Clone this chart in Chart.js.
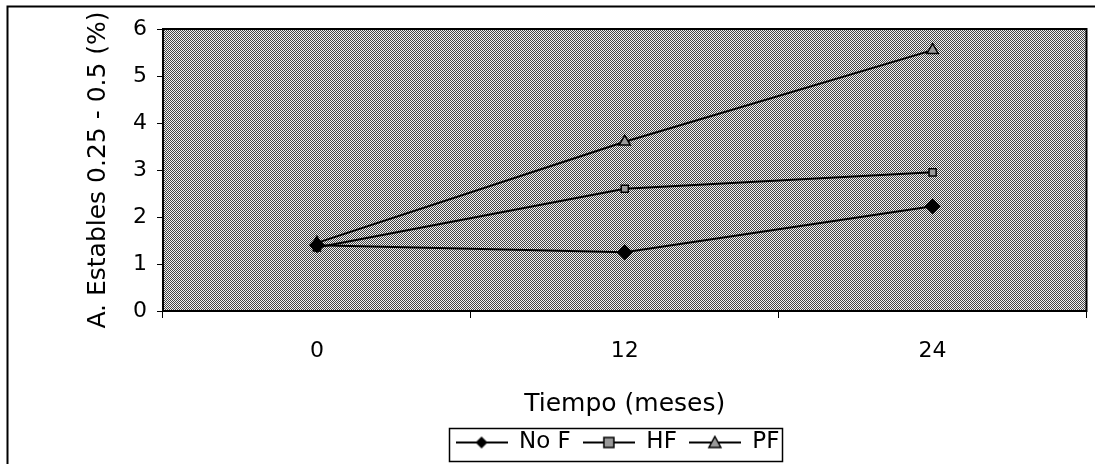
<!DOCTYPE html>
<html><head><meta charset="utf-8">
<script src="https://cdn.jsdelivr.net/npm/chart.js@4"></script>
<style>html,body{margin:0;padding:0;background:#fff;}#wrap{width:1095px;height:464px;position:relative;}</style>
</head><body><div id="wrap"><canvas id="c" width="1095" height="464"></canvas></div>
<script>
const categories = ["0", "12", "24"];
const noF = [1.4, 1.25, 2.23];
const hF = [1.35, 2.6, 2.95];
const pF = [1.45, 3.6, 5.55];
const yTicks = [0, 1, 2, 3, 4, 5, 6];
const seriesNames = ["No F", "HF", "PF"];

const FONT = "'DejaVu Sans', sans-serif";

function makePattern() {
  const p = document.createElement('canvas');
  p.width = 4; p.height = 4;
  const g = p.getContext('2d');
  g.fillStyle = '#f2f2f2'; g.fillRect(0,0,4,4);
  g.fillStyle = '#454545';
  for (let y=0;y<4;y++) for (let x=0;x<4;x++) if ((x+y)%2===0) g.fillRect(x,y,1,1);
  return g.createPattern(p,'repeat');
}
const ctx = document.getElementById('c').getContext('2d');
const bgPattern = makePattern();

function legendIcon(kind) {
  const c = document.createElement('canvas');
  c.width = 52; c.height = 16;
  const g = c.getContext('2d');
  g.strokeStyle = '#000'; g.lineWidth = 2;
  g.beginPath(); g.moveTo(0,8); g.lineTo(52,8); g.stroke();
  g.lineWidth = 1.5;
  const m = 26;
  if (kind === 0) {
    g.fillStyle = '#000';
    g.beginPath(); g.moveTo(m,2); g.lineTo(m+6,8); g.lineTo(m,14); g.lineTo(m-6,8); g.closePath(); g.fill();
  } else if (kind === 1) {
    g.fillStyle = '#999'; g.fillRect(m-5,3,10,10); g.strokeRect(m-5,3,10,10);
  } else {
    g.fillStyle = '#999';
    g.beginPath(); g.moveTo(m,2); g.lineTo(m+6,13); g.lineTo(m-6,13); g.closePath(); g.fill(); g.stroke();
  }
  return c;
}

const framePlugin = {
  id: 'frame',
  afterLayout(chart) {
    const lg = chart.legend;
    if (lg) { lg.left = 140; lg.right = 1095; }
  },
  beforeDraw(chart) {
    const {ctx, chartArea: a} = chart;
    ctx.save();
    ctx.fillStyle = '#fff'; ctx.fillRect(0,0,chart.width,chart.height);
    ctx.fillStyle = bgPattern;
    ctx.fillRect(a.left, a.top, a.right-a.left, a.bottom-a.top);
    ctx.strokeStyle = '#000'; ctx.lineWidth = 2;
    ctx.beginPath();
    ctx.moveTo(7.5, 464); ctx.lineTo(7.5, 6.5); ctx.lineTo(1095, 6.5);
    ctx.stroke();
    ctx.restore();
  },
  afterDatasetsDraw(chart) {
    const {ctx, chartArea: a} = chart;
    ctx.save();
    ctx.strokeStyle = '#000'; ctx.lineWidth = 2;
    ctx.strokeRect(a.left, a.top, a.right-a.left, a.bottom-a.top);
    ctx.restore();
  },
  afterDraw(chart) {
    const lg = chart.legend;
    if (!lg || !lg.legendHitBoxes || !lg.legendHitBoxes.length) return;
    const hb = lg.legendHitBoxes;
    let l = Infinity, r = -Infinity, cy = hb[0].top + hb[0].height / 2;
    hb.forEach(h => { l = Math.min(l, h.left); r = Math.max(r, h.left + h.width); });
    const ctx = chart.ctx;
    ctx.save(); ctx.strokeStyle = '#000'; ctx.lineWidth = 1.5;
    ctx.strokeRect(Math.round(l) - 6.5, Math.round(cy - 15) + 0.5, Math.round(r - l + 9), 33);
    ctx.restore();
  }
};

const ds = (label, data, style, fill, radius, idx) => ({
  label, data,
  borderColor: '#000', borderWidth: 2,
  pointStyle: style, pointRadius: radius, pointHoverRadius: radius,
  pointBackgroundColor: fill, pointBorderColor: '#000', pointBorderWidth: 1.5,
  tension: 0, fill: false, legendIcon: legendIcon(idx)
});

new Chart(ctx, {
  type: 'line',
  data: {
    labels: categories,
    datasets: [
      ds(seriesNames[0], noF, 'rectRot', '#000', 7, 0),
      ds(seriesNames[1], hF, 'rect', '#999', 5, 1),
      ds(seriesNames[2], pF, 'triangle', '#999', 6.5, 2)
    ]
  },
  options: {
    responsive: false,
    animation: false,
    events: [],
    layout: { padding: { left: 0, right: 3, top: 29, bottom: 0 } },
    plugins: {
      tooltip: { enabled: false },
      legend: {
        position: 'bottom',
        labels: {
          usePointStyle: true,
          pointStyleWidth: 52,
          boxHeight: 16,
          padding: 12,
          color: '#000',
          font: { family: FONT, size: 23 },
          generateLabels(chart) {
            return chart.data.datasets.map((d, i) => ({
              text: d.label, pointStyle: d.legendIcon, datasetIndex: i,
              fontColor: '#000', lineWidth: 0, strokeStyle: 'transparent', fillStyle: 'transparent', hidden: false
            }));
          }
        }
      }
    },
    scales: {
      x: {
        type: 'category',
        offset: true,
        grid: { display: true, offset: true, drawOnChartArea: false, tickLength: 7, color: '#000', lineWidth: 1 },
        border: { display: true, color: '#000', width: 2 },
        ticks: { color: '#000', padding: 20, font: { family: FONT, size: 22 } },
        title: { display: true, text: 'Tiempo (meses)', color: '#000', font: { family: FONT, size: 25 }, padding: { top: 0, bottom: 0 } },
        afterFit(s) { s.height = 108; }
      },
      y: {
        min: 0, max: 6,
        afterBuildTicks(s) { s.ticks = yTicks.map(v => ({ value: v })); },
        grid: { display: true, drawOnChartArea: false, tickLength: 6, color: '#000', lineWidth: 1 },
        border: { display: true, color: '#000', width: 2 },
        ticks: { color: '#000', padding: 10, font: { family: FONT, size: 22 } },
        title: { display: true, text: 'A. Estables 0.25 - 0.5 (%)', color: '#000', font: { family: FONT, size: 25 }, padding: { top: 83, bottom: 0 } },
        afterFit(s) { s.width = 163; }
      }
    }
  },
  plugins: [framePlugin]
});
</script>
</body></html>
